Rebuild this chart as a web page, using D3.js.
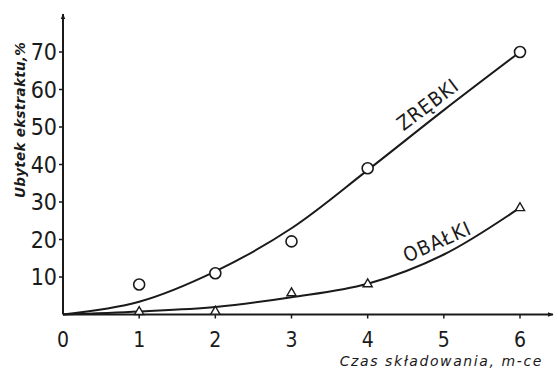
<!DOCTYPE html>
<html>
<head>
<meta charset="utf-8">
<script src="https://cdn.jsdelivr.net/npm/d3@7"></script>
<style>
  body { margin: 0; background: #fff; }
  text { fill: #1a1a1a; }
</style>
</head>
<body>
<script>
// measured points
var months = [1, 2, 3, 4, 6];
var zrebki = [8, 11, 19.5, 39, 70];
var obalkiMonths = [1, 2, 3, 4, 6];
var obalki = [0.7, 0.8, 5.7, 8.1, 28.4];

// hand-drawn fitted curves
var curveMonths = [0, 1, 2, 3, 4, 5, 6];
var zrebkiCurve = [0, 3.4, 11.5, 23, 38.5, 54.5, 70];
var obalkiCurve = [0, 0.8, 2, 4.6, 8.2, 16, 28.5];

var xTicks = [0, 1, 2, 3, 4, 5, 6];
var yTicks = [10, 20, 30, 40, 50, 60, 70];

var width = 558, height = 373;
var svg = d3.select("body").append("svg")
    .attr("width", width)
    .attr("height", height);

var x = d3.scaleLinear().domain([0, 6]).range([63, 520]);
var y = d3.scaleLinear().domain([0, 70]).range([314.5, 52]);

var ink = "#1a1a1a";
var numFont = "'Liberation Sans Narrow','DejaVu Sans Condensed','DejaVu Sans',sans-serif";

// arrowheads
var defs = svg.append("defs");
defs.append("marker")
    .attr("id", "arrow")
    .attr("viewBox", "0 0 10 10")
    .attr("refX", 9).attr("refY", 5)
    .attr("markerWidth", 6).attr("markerHeight", 6)
    .attr("markerUnits", "userSpaceOnUse")
    .attr("orient", "auto")
  .append("path")
    .attr("d", "M0,1 L10,5 L0,9 Z")
    .attr("fill", ink);

// axes lines
svg.append("line")
    .attr("x1", x(0)).attr("y1", y(0))
    .attr("x2", x(0)).attr("y2", 14)
    .attr("stroke", ink).attr("stroke-width", 2)
    .attr("marker-end", "url(#arrow)");
svg.append("line")
    .attr("x1", x(0)).attr("y1", y(0))
    .attr("x2", 553).attr("y2", y(0))
    .attr("stroke", ink).attr("stroke-width", 2)
    .attr("marker-end", "url(#arrow)");

// y ticks
var yAxis = svg.append("g");
yAxis.selectAll("line").data(yTicks).enter().append("line")
    .attr("x1", x(0) - 4).attr("x2", x(0))
    .attr("y1", function(d) { return y(d); })
    .attr("y2", function(d) { return y(d); })
    .attr("stroke", ink).attr("stroke-width", 1.5);
yAxis.selectAll("text").data(yTicks).enter().append("text")
    .attr("x", x(0) - 6)
    .attr("y", function(d) { return y(d) + 8; })
    .attr("text-anchor", "end")
    .attr("font-family", numFont)
    .attr("font-size", 23)
    .text(function(d) { return d; });

// x ticks
var xAxis = svg.append("g");
xAxis.selectAll("line").data(xTicks.slice(1)).enter().append("line")
    .attr("x1", function(d) { return x(d); })
    .attr("x2", function(d) { return x(d); })
    .attr("y1", y(0)).attr("y2", y(0) + 4)
    .attr("stroke", ink).attr("stroke-width", 1.5);
xAxis.selectAll("text").data(xTicks).enter().append("text")
    .attr("x", function(d) { return x(d); })
    .attr("y", 347)
    .attr("text-anchor", "middle")
    .attr("font-family", numFont)
    .attr("font-size", 21)
    .text(function(d) { return d; });

// axis titles
svg.append("text")
    .attr("transform", "translate(25,120) rotate(-90)")
    .attr("text-anchor", "middle")
    .attr("font-family", "'DejaVu Sans',sans-serif")
    .attr("font-style", "italic")
    .attr("font-weight", "bold")
    .attr("font-size", 13.5)
    .attr("letter-spacing", 0.3)
    .text("Ubytek ekstraktu,%");
svg.append("text")
    .attr("x", 543).attr("y", 366)
    .attr("text-anchor", "end")
    .attr("font-family", "'DejaVu Sans',sans-serif")
    .attr("font-style", "italic")
    .attr("font-size", 14)
    .attr("letter-spacing", 1.6)
    .text("Czas składowania, m-ce");

// curves
var line = d3.line()
    .x(function(d, i) { return x(curveMonths[i]); })
    .y(function(d) { return y(d); })
    .curve(d3.curveCatmullRom.alpha(0.5));
svg.append("path")
    .attr("d", line(zrebkiCurve))
    .attr("fill", "none").attr("stroke", ink).attr("stroke-width", 2);
svg.append("path")
    .attr("d", line(obalkiCurve))
    .attr("fill", "none").attr("stroke", ink).attr("stroke-width", 2);

// circle markers
svg.selectAll("circle.z").data(zrebki).enter().append("circle")
    .attr("class", "z")
    .attr("cx", function(d, i) { return x(months[i]); })
    .attr("cy", function(d) { return y(d); })
    .attr("r", 5.5)
    .attr("fill", "#fff").attr("stroke", ink).attr("stroke-width", 1.6);

// triangle markers
var tri = d3.symbol().type(d3.symbolTriangle).size(36);
svg.selectAll("path.o").data(obalki).enter().append("path")
    .attr("class", "o")
    .attr("d", tri)
    .attr("transform", function(d, i) {
      return "translate(" + x(obalkiMonths[i]) + "," + y(d) + ")";
    })
    .attr("fill", "#fff").attr("stroke", ink).attr("stroke-width", 1.4);

// series labels along the curves
svg.append("text")
    .attr("transform", "translate(432,110) rotate(-37)")
    .attr("text-anchor", "middle")
    .attr("font-family", numFont)
    .attr("font-size", 20)
    .attr("letter-spacing", 1)
    .text("ZRĘBKI");
svg.append("text")
    .attr("transform", "translate(440,248) rotate(-24)")
    .attr("text-anchor", "middle")
    .attr("font-family", numFont)
    .attr("font-size", 20)
    .attr("letter-spacing", 1)
    .text("OBAŁKI");
</script>
</body>
</html>
